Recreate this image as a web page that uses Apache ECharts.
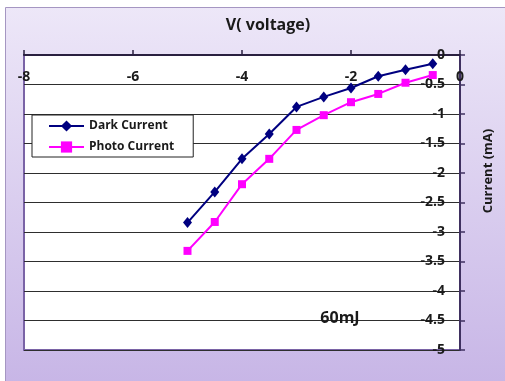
<!DOCTYPE html>
<html>
<head>
<meta charset="utf-8">
<script src="https://cdn.jsdelivr.net/npm/echarts@6/dist/echarts.min.js"></script>
<style>
  html, body { margin: 0; padding: 0; background: #ffffff; }
  #chart { width: 505px; height: 381px; }
</style>
</head>
<body>
<div id="chart"></div>
<script>
// Bias voltage (V) and measured currents (mA)
const voltage = [-5, -4.5, -4, -3.5, -3, -2.5, -2, -1.5, -1, -0.5];
const darkCurrent = [-2.84, -2.32, -1.76, -1.34, -0.88, -0.71, -0.56, -0.36, -0.25, -0.15];
const photoCurrent = [-3.32, -2.83, -2.19, -1.76, -1.27, -1.02, -0.80, -0.66, -0.47, -0.34];
const seriesNames = ['Dark Current', 'Photo Current'];

const FONT = '"Open Sans", "Noto Sans", sans-serif';
const chart = echarts.init(document.getElementById('chart'), null, { renderer: 'canvas' });

function pairs(xs, ys) { return xs.map((x, i) => [x, ys[i]]); }

chart.setOption({
  animation: false,
  backgroundColor: '#ffffff',
  graphic: [
    {
      type: 'rect', z: -10, silent: true,
      shape: { x: 5.5, y: 7.5, width: 505, height: 380 },
      style: {
        fill: new echarts.graphic.LinearGradient(0, 0, 0, 1, [
          { offset: 0, color: '#ede7f8' },
          { offset: 1, color: '#c7b5e6' }
        ]),
        stroke: '#a596c2', lineWidth: 1
      }
    },
    {
      type: 'text', z: 10,
      x: 268, y: 25,
      style: { text: 'V( voltage)', font: 'bold 16px ' + FONT, fill: '#1a1a1a', align: 'center', verticalAlign: 'middle' }
    },
    {
      type: 'text', z: 10,
      x: 488, y: 171, rotation: Math.PI / 2,
      style: { text: 'Current (mA)', font: 'bold 13px ' + FONT, fill: '#1a1a1a', align: 'center', verticalAlign: 'middle' }
    },
    {
      type: 'text', z: 10,
      x: 340, y: 318,
      style: { text: '60mJ', font: 'bold 16px ' + FONT, fill: '#1a1a1a', align: 'center', verticalAlign: 'middle' }
    }
  ],
  grid: {
    left: 24, top: 55, width: 436, height: 295,
    show: true, backgroundColor: '#ffffff',
    borderColor: '#7a63a6', borderWidth: 2
  },
  legend: {
    left: 32, top: 115,
    orient: 'vertical',
    data: seriesNames,
    backgroundColor: '#ffffff',
    borderColor: '#222222', borderWidth: 1, borderRadius: 0,
    padding: [5, 19, 4, 16],
    itemWidth: 35, itemHeight: 14, itemGap: 9,
    textStyle: { fontFamily: FONT, fontWeight: 'bold', fontSize: 12, color: '#1a1a1a' }
  },
  xAxis: {
    type: 'value', min: -8, max: 0, interval: 2,
    position: 'top',
    axisLine: { show: true, onZero: false, lineStyle: { color: '#2a2040', width: 2 } },
    axisTick: { show: true, inside: false, length: 5, lineStyle: { color: '#2a2040', width: 1.5 } },
    axisLabel: { inside: true, margin: 15, fontFamily: FONT, fontWeight: 'bold', fontSize: 14, color: '#1a1a1a' },
    splitLine: { show: false }
  },
  yAxis: {
    type: 'value', min: -5, max: 0, interval: 0.5,
    position: 'right',
    axisLine: { show: true, onZero: false, lineStyle: { color: '#3f3060', width: 2 } },
    axisTick: { show: true, inside: false, length: 5, lineStyle: { color: '#3f3060', width: 1.5 } },
    axisLabel: { inside: true, margin: 15, fontFamily: FONT, fontWeight: 'bold', fontSize: 14, color: '#1a1a1a' },
    splitLine: { show: true, lineStyle: { color: '#2e2e2e', width: 1.2 } }
  },
  series: [
    {
      name: seriesNames[0], type: 'line',
      data: pairs(voltage, darkCurrent),
      symbol: 'diamond', symbolSize: [9, 11],
      lineStyle: { color: '#000080', width: 2 },
      itemStyle: { color: '#000080' },
      z: 3
    },
    {
      name: seriesNames[1], type: 'line',
      data: pairs(voltage, photoCurrent),
      symbol: 'rect', symbolSize: 8,
      lineStyle: { color: '#ff00ff', width: 2 },
      itemStyle: { color: '#ff00ff' },
      z: 2
    }
  ]
});
</script>
</body>
</html>
